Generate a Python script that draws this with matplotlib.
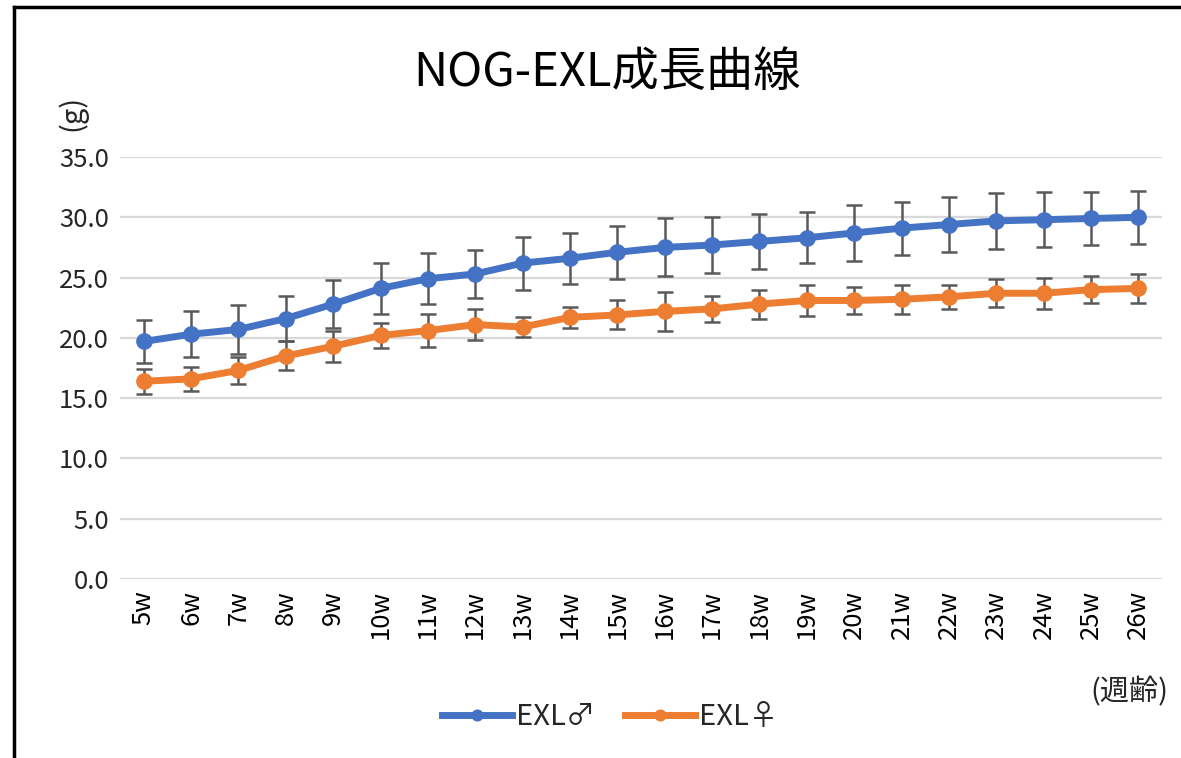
import numpy as np
import matplotlib.pyplot as plt
from matplotlib.lines import Line2D

plt.rcParams['font.family'] = ['Noto Sans CJK JP', 'DejaVu Sans']

# 週齢 (weeks)
weeks = ["5w", "6w", "7w", "8w", "9w", "10w", "11w", "12w", "13w", "14w", "15w",
         "16w", "17w", "18w", "19w", "20w", "21w", "22w", "23w", "24w", "25w", "26w"]

# EXL male: mean body weight (g) and SD
male_mean = [19.7, 20.3, 20.7, 21.6, 22.8, 24.1, 24.9, 25.3, 26.2, 26.6, 27.1,
             27.5, 27.7, 28.0, 28.3, 28.7, 29.1, 29.4, 29.7, 29.8, 29.9, 30.0]
male_sd = [1.8, 1.9, 2.0, 1.9, 2.0, 2.1, 2.1, 2.0, 2.2, 2.1, 2.2,
           2.4, 2.3, 2.3, 2.1, 2.3, 2.2, 2.3, 2.3, 2.3, 2.2, 2.2]

# EXL female
female_mean = [16.4, 16.6, 17.3, 18.5, 19.3, 20.2, 20.6, 21.1, 20.9, 21.7, 21.9,
               22.2, 22.4, 22.8, 23.1, 23.1, 23.2, 23.4, 23.7, 23.7, 24.0, 24.1]
female_sd = [1.05, 1.0, 1.1, 1.2, 1.3, 1.05, 1.35, 1.3, 0.85, 0.9, 1.2,
             1.6, 1.05, 1.2, 1.25, 1.15, 1.2, 1.0, 1.15, 1.3, 1.15, 1.2]

fig = plt.figure(figsize=(11.81, 7.58), dpi=100)
ax = fig.add_axes([120 / 1181, 1 - 579 / 758, 1042 / 1181, 422 / 758])

x = np.arange(len(weeks))
blue = "#4472C4"
orange = "#ED7D31"
grey_err = "#595959"

ax.errorbar(x, male_mean, yerr=male_sd, fmt="none", ecolor=grey_err,
            elinewidth=1.8, capsize=5.5, capthick=1.8, zorder=2)
ax.errorbar(x, female_mean, yerr=female_sd, fmt="none", ecolor=grey_err,
            elinewidth=1.8, capsize=5.5, capthick=1.8, zorder=2)
ax.plot(x, male_mean, color=blue, linewidth=5, marker="o", markersize=11,
        label="EXL♂", zorder=3)
ax.plot(x, female_mean, color=orange, linewidth=5, marker="o", markersize=11,
        label="EXL♀", zorder=3)

ax.set_xlim(-0.5, len(weeks) - 0.5)
ax.set_ylim(0, 35)
ax.set_yticks(np.arange(0, 35.1, 5))
ax.set_yticklabels(["%.1f" % v for v in np.arange(0, 35.1, 5)], fontsize=18.5, color="#262626")
ax.set_xticks(x)
ax.set_xticklabels(weeks, rotation=90, fontsize=18.5, color="#000000")
ax.tick_params(length=0, pad=8)
ax.yaxis.grid(True, color="#D9D9D9", linewidth=1.6)
ax.set_axisbelow(True)
for s in ["top", "right", "left", "bottom"]:
    ax.spines[s].set_visible(False)

fig.text(607 / 1181, 1 - 73 / 758, "NOG-EXL成長曲線", fontsize=34,
         ha="center", va="center", color="#000000")
fig.text(72 / 1181, 1 - 113 / 758, "(g)", fontsize=21, rotation=90,
         ha="center", va="center", color="#262626")
fig.text(1090 / 1181, 1 - 692 / 758, "(週齢)", fontsize=21,
         ha="left", va="center", color="#262626")

leg = fig.legend(loc="center", bbox_to_anchor=(610 / 1181, 1 - 717 / 758), ncol=2,
                 frameon=False, fontsize=21, handlelength=2.4, columnspacing=1.0,
                 handletextpad=0.15, markerscale=0.7)
for t in leg.get_texts():
    t.set_color("#262626")

# outer chart border (left and top edges visible)
fig.add_artist(Line2D([14 / 1181, 14 / 1181], [0, 1 - 7 / 758], color="black", linewidth=2.5))
fig.add_artist(Line2D([14 / 1181, 1], [1 - 7 / 758, 1 - 7 / 758], color="black", linewidth=2.5))

fig.savefig("out.png", dpi=100)
